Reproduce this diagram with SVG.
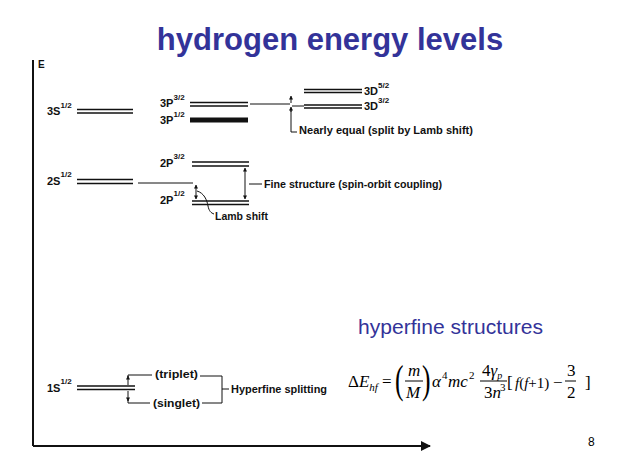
<svg xmlns="http://www.w3.org/2000/svg" width="628" height="472" viewBox="0 0 628 472">
<defs>
<style>
.lv{stroke:#111;stroke-width:1.7;fill:none}
.th{stroke:#111;stroke-width:1;fill:none}
.lb{font-family:"Liberation Sans",Arial,sans-serif;font-weight:bold;font-size:11px;fill:#111}
.sp{font-size:8px}
.an{font-family:"Liberation Sans",Arial,sans-serif;font-weight:bold;font-size:10px;fill:#111}
.ti{font-family:"Liberation Sans",Arial,sans-serif;fill:#333399}
.mt{font-family:"Liberation Serif","Times New Roman",serif;font-size:17px;fill:#000}
.it{font-style:italic}
.bar{stroke:#000;stroke-width:1}
</style>
<marker id="ah" viewBox="0 0 10 10" refX="9" refY="5" markerWidth="4" markerHeight="4" orient="auto-start-reverse">
<path d="M0,0 L10,5 L0,10 z" fill="#111"/>
</marker>
<marker id="ax" viewBox="0 0 10 10" refX="9" refY="5" markerWidth="6" markerHeight="5" orient="auto">
<path d="M0,0 L10,5 L0,10 z" fill="#111"/>
</marker>
</defs>
<rect width="628" height="472" fill="#fff"/>

<text class="ti" x="330" y="50" font-size="31" font-weight="bold" text-anchor="middle">hydrogen energy levels</text>

<g id="axes">
<line x1="33" y1="60" x2="33" y2="446" stroke="#111" stroke-width="2"/>
<line x1="33" y1="446" x2="430" y2="446" stroke="#111" stroke-width="2" marker-end="url(#ax)"/>
<text class="an" x="38" y="68" font-size="9">E</text>
</g>

<g id="level-3S">
<line class="lv" x1="77" y1="109.5" x2="133" y2="109.5"/>
<line class="lv" x1="77" y1="113" x2="133" y2="113"/>
<text class="lb" x="47" y="115">3S<tspan class="sp" dy="-7">1/2</tspan></text>
</g>

<g id="level-3P32">
<line class="lv" x1="190" y1="102.5" x2="248" y2="102.5"/>
<line class="lv" x1="190" y1="106" x2="248" y2="106"/>
<text class="lb" x="160" y="107">3P<tspan class="sp" dy="-7">3/2</tspan></text>
</g>

<g id="level-3P12">
<line x1="190" y1="120" x2="248" y2="120" stroke="#111" stroke-width="5"/>
<text class="lb" x="160" y="124">3P<tspan class="sp" dy="-7">1/2</tspan></text>
</g>

<g id="level-3D52">
<line class="lv" x1="304" y1="89.5" x2="362" y2="89.5"/>
<line class="lv" x1="304" y1="92.5" x2="362" y2="92.5"/>
<text class="lb" x="364" y="95">3D<tspan class="sp" dy="-7">5/2</tspan></text>
</g>

<g id="level-3D32">
<line class="lv" x1="304" y1="105" x2="362" y2="105"/>
<line class="lv" x1="304" y1="108" x2="362" y2="108"/>
<text class="lb" x="364" y="110">3D<tspan class="sp" dy="-7">3/2</tspan></text>
</g>

<g id="level-2S">
<line class="lv" x1="77" y1="179.5" x2="133" y2="179.5"/>
<line class="lv" x1="77" y1="183.5" x2="133" y2="183.5"/>
<text class="lb" x="47" y="185">2S<tspan class="sp" dy="-8">1/2</tspan></text>
</g>

<g id="level-2P32">
<line class="lv" x1="192" y1="162" x2="249" y2="162"/>
<line class="lv" x1="192" y1="166" x2="249" y2="166"/>
<text class="lb" x="160" y="167">2P<tspan class="sp" dy="-8">3/2</tspan></text>
</g>

<g id="level-2P12">
<line class="lv" x1="192" y1="201" x2="249" y2="201"/>
<line class="lv" x1="192" y1="204.5" x2="249" y2="204.5"/>
<text class="lb" x="160" y="204">2P<tspan class="sp" dy="-8">1/2</tspan></text>
</g>

<g id="level-1S">
<line class="lv" x1="77" y1="386" x2="135" y2="386"/>
<line class="lv" x1="77" y1="389.5" x2="135" y2="389.5"/>
<text class="lb" x="47" y="392">1S<tspan class="sp" dy="-8">1/2</tspan></text>
</g>

<g id="connectors">
<line class="th" x1="250" y1="104" x2="290" y2="104"/>
<line class="th" x1="291" y1="96" x2="291" y2="103" marker-start="url(#ah)"/>
<line class="th" x1="291" y1="112" x2="291" y2="107" marker-end="url(#ah)"/>
<line class="th" x1="292" y1="106" x2="304" y2="106"/>
<polyline class="th" points="291,110 291,132 297,132"/>
<line class="th" x1="138" y1="183" x2="193" y2="183"/>
<line class="th" x1="196" y1="185" x2="196" y2="199" marker-start="url(#ah)" marker-end="url(#ah)"/>
<path class="th" d="M197,191 C204,193 207,200 208,206 C209,211 211,213 214,214"/>
<line class="th" x1="245" y1="168" x2="245" y2="199" marker-start="url(#ah)" marker-end="url(#ah)"/>
<line class="th" x1="249" y1="184" x2="262" y2="184"/>
<line class="th" x1="128" y1="385" x2="128" y2="376" marker-end="url(#ah)"/>
<line class="th" x1="128" y1="391" x2="128" y2="401" marker-end="url(#ah)"/>
<polyline class="th" points="128,377 128,375 152,375"/>
<polyline class="th" points="128,400 128,403 150,403"/>
<polyline class="th" points="200,376 222,376 222,403 202,403"/>
<line class="th" x1="222" y1="389" x2="229" y2="389"/>
</g>

<g id="annotations">
<text class="an" x="299" y="134" textLength="174" lengthAdjust="spacingAndGlyphs">Nearly equal (split by Lamb shift)</text>
<text class="an" x="264" y="188" textLength="178" lengthAdjust="spacingAndGlyphs">Fine structure (spin-orbit coupling)</text>
<text class="an" x="215" y="220" textLength="53" lengthAdjust="spacingAndGlyphs">Lamb shift</text>
<text class="an" x="155" y="378" textLength="43" lengthAdjust="spacingAndGlyphs">(triplet)</text>
<text class="an" x="153" y="407" textLength="47" lengthAdjust="spacingAndGlyphs">(singlet)</text>
<text class="an" x="231" y="393" textLength="96" lengthAdjust="spacingAndGlyphs">Hyperfine splitting</text>
</g>

<text class="ti" x="358" y="334" font-size="21" textLength="185" lengthAdjust="spacingAndGlyphs">hyperfine structures</text>

<g id="formula" class="mt">
<text x="348" y="387">Δ<tspan class="it">E</tspan><tspan class="it" font-size="11" dy="4">hf</tspan></text>
<text x="382" y="387">=</text>
<text transform="translate(395,393) scale(0.75,1.2)" font-size="34">(</text>
<text x="408" y="376" class="it">m</text>
<line class="bar" x1="405" y1="381" x2="423" y2="381"/>
<text x="406" y="398" class="it">M</text>
<text transform="translate(422,393) scale(0.75,1.2)" font-size="34">)</text>
<text x="432" y="387" class="it">α</text>
<text x="442" y="379" font-size="11">4</text>
<text x="448" y="387" class="it">mc</text>
<text x="469" y="379" font-size="11">2</text>
<text x="482" y="376">4<tspan class="it">γ</tspan><tspan class="it" font-size="10" dy="3">p</tspan></text>
<line class="bar" x1="480" y1="381" x2="507" y2="381"/>
<text x="484" y="398">3<tspan class="it">n</tspan></text>
<text x="500" y="391" font-size="11">3</text>
<text x="507" y="388">[</text>
<text x="515" y="388" font-size="15"><tspan class="it">f</tspan>(<tspan class="it">f</tspan>+1)</text>
<text x="553" y="388">−</text>
<text x="567" y="376">3</text>
<line class="bar" x1="565" y1="381" x2="576" y2="381"/>
<text x="567" y="398">2</text>
<text x="585" y="388">]</text>
</g>

<text x="588" y="446" font-family="Liberation Sans,Arial,sans-serif" font-size="12" fill="#000">8</text>
</svg>
